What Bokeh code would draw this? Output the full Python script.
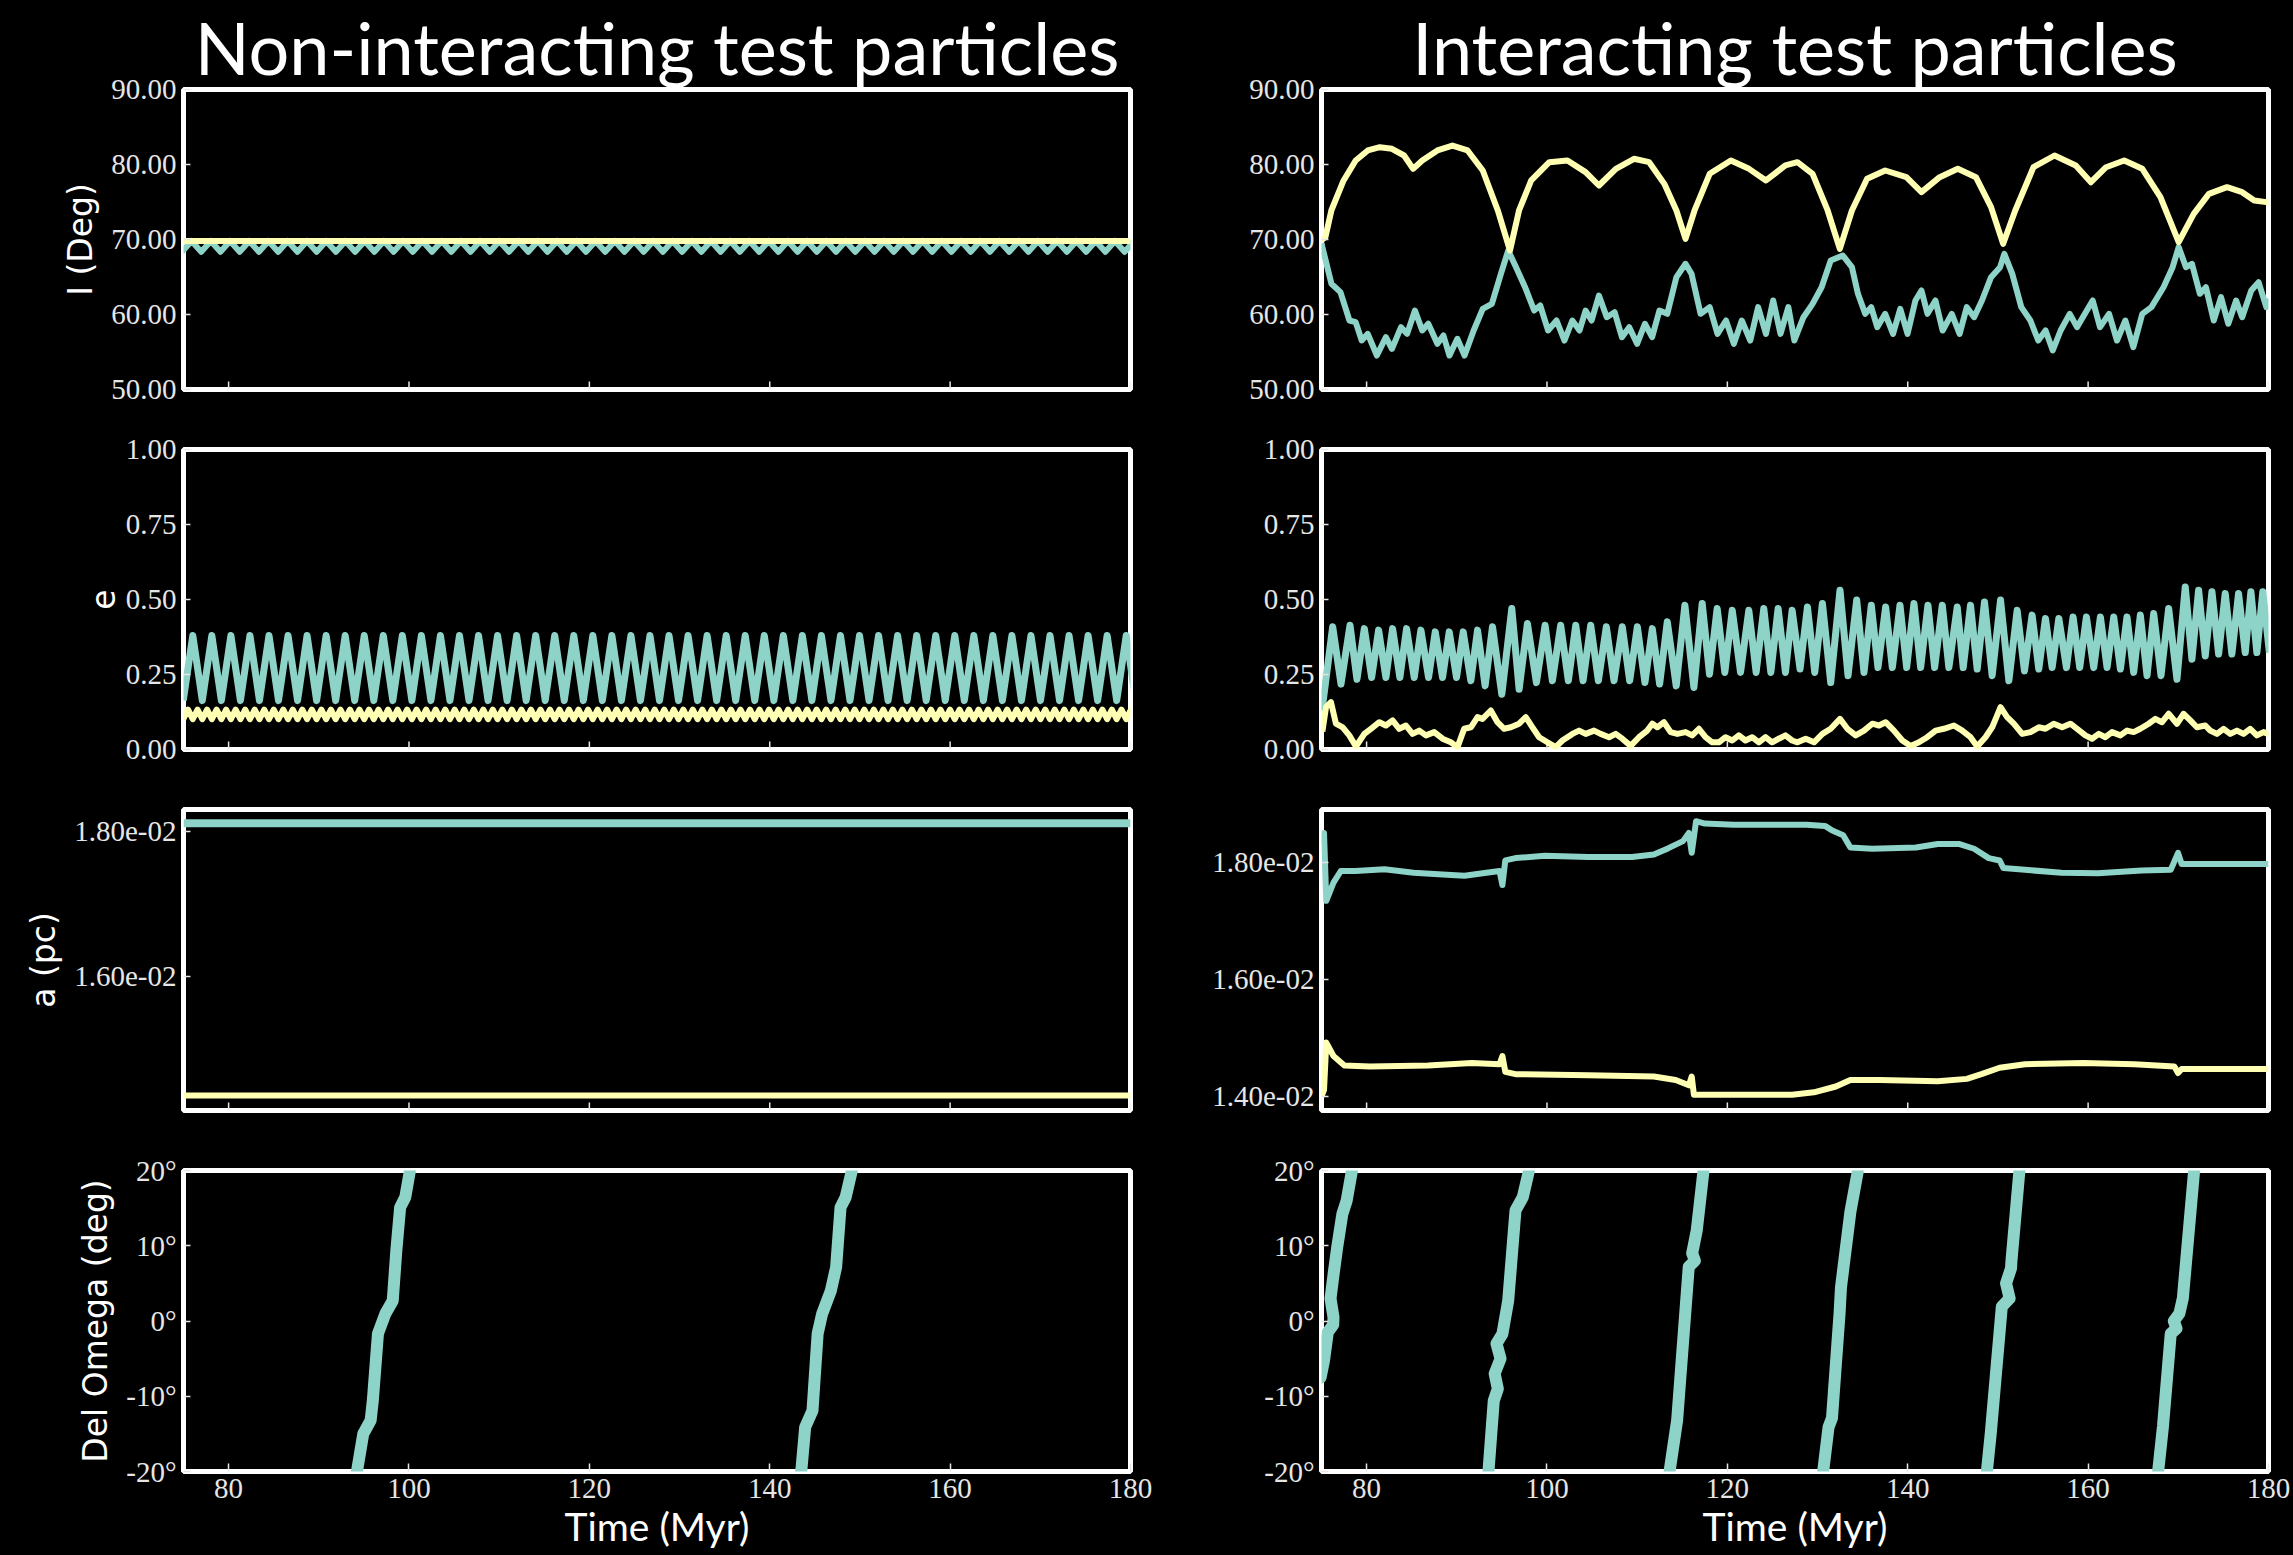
import numpy as np
from bokeh.plotting import figure
from bokeh.models import Range1d, FixedTicker, PrintfTickFormatter, CustomJSTickFormatter, Title
from bokeh.layouts import column, row
from bokeh.embed import file_html
from bokeh.resources import INLINE

CYAN = "#8dd3c7"
YELLOW = "#feffb3"

# ---------------- time axis ----------------
T_MIN, T_MAX = 75.0, 180.0
x_ticks = [80, 100, 120, 140, 160, 180]

# ---------------- non-interacting particles ----------------
# inclination, cyan particle: alternating troughs / crests, evenly spaced in time
free_I_cyan_t0, free_I_cyan_t1 = 74.83, 180.41
free_I_cyan = [
    68.35, 69.80, 68.35, 69.80, 68.35, 69.80, 68.35, 69.80, 68.35, 69.80,
    68.35, 69.80, 68.35, 69.80, 68.35, 69.80, 68.35, 69.80, 68.35, 69.80,
    68.35, 69.80, 68.35, 69.80, 68.35, 69.80, 68.35, 69.80, 68.35, 69.80,
    68.35, 69.80, 68.35, 69.80, 68.35, 69.80, 68.35, 69.80, 68.35, 69.80,
    68.35, 69.80, 68.35, 69.80, 68.35, 69.80, 68.35, 69.80, 68.35, 69.80,
    68.35, 69.80, 68.35, 69.80, 68.35, 69.80, 68.35, 69.80, 68.35, 69.80,
    68.35, 69.80, 68.35, 69.80, 68.35, 69.80, 68.35, 69.80, 68.35, 69.80,
    68.35, 69.80, 68.35, 69.80, 68.35, 69.80, 68.35, 69.80, 68.35, 69.80,
    68.35, 69.80, 68.35, 69.80, 68.35, 69.80, 68.35, 69.80, 68.35, 69.80,
    68.35, 69.80, 68.35, 69.80, 68.35, 69.80, 68.35, 69.80, 68.35, 69.80,
]
free_I_yellow_t = [75.0, 100.0, 125.0, 150.0, 180.0]
free_I_yellow = [69.80, 69.80, 69.80, 69.80, 69.80]

# eccentricity, cyan particle: troughs / crests, evenly spaced in time
free_e_cyan_t0, free_e_cyan_t1 = 74.974, 180.58
free_e_cyan = [
    0.163, 0.380, 0.163, 0.380, 0.163, 0.380, 0.163, 0.380, 0.163, 0.380,
    0.163, 0.380, 0.163, 0.380, 0.163, 0.380, 0.163, 0.380, 0.163, 0.380,
    0.163, 0.380, 0.163, 0.380, 0.163, 0.380, 0.163, 0.380, 0.163, 0.380,
    0.163, 0.380, 0.163, 0.380, 0.163, 0.380, 0.163, 0.380, 0.163, 0.380,
    0.163, 0.380, 0.163, 0.380, 0.163, 0.380, 0.163, 0.380, 0.163, 0.380,
    0.163, 0.380, 0.163, 0.380, 0.163, 0.380, 0.163, 0.380, 0.163, 0.380,
    0.163, 0.380, 0.163, 0.380, 0.163, 0.380, 0.163, 0.380, 0.163, 0.380,
    0.163, 0.380, 0.163, 0.380, 0.163, 0.380, 0.163, 0.380, 0.163, 0.380,
    0.163, 0.380, 0.163, 0.380, 0.163, 0.380, 0.163, 0.380, 0.163, 0.380,
    0.163, 0.380, 0.163, 0.380, 0.163, 0.380, 0.163, 0.380, 0.163, 0.380,
    0.163,
]
# eccentricity, yellow particle: twice as fast, small swing
free_e_yellow_t0, free_e_yellow_t1 = 74.974, 180.58
free_e_yellow = [
    0.101, 0.133, 0.101, 0.133, 0.101, 0.133, 0.101, 0.133, 0.101, 0.133,
    0.101, 0.133, 0.101, 0.133, 0.101, 0.133, 0.101, 0.133, 0.101, 0.133,
    0.101, 0.133, 0.101, 0.133, 0.101, 0.133, 0.101, 0.133, 0.101, 0.133,
    0.101, 0.133, 0.101, 0.133, 0.101, 0.133, 0.101, 0.133, 0.101, 0.133,
    0.101, 0.133, 0.101, 0.133, 0.101, 0.133, 0.101, 0.133, 0.101, 0.133,
    0.101, 0.133, 0.101, 0.133, 0.101, 0.133, 0.101, 0.133, 0.101, 0.133,
    0.101, 0.133, 0.101, 0.133, 0.101, 0.133, 0.101, 0.133, 0.101, 0.133,
    0.101, 0.133, 0.101, 0.133, 0.101, 0.133, 0.101, 0.133, 0.101, 0.133,
    0.101, 0.133, 0.101, 0.133, 0.101, 0.133, 0.101, 0.133, 0.101, 0.133,
    0.101, 0.133, 0.101, 0.133, 0.101, 0.133, 0.101, 0.133, 0.101, 0.133,
    0.101, 0.133, 0.101, 0.133, 0.101, 0.133, 0.101, 0.133, 0.101, 0.133,
    0.101, 0.133, 0.101, 0.133, 0.101, 0.133, 0.101, 0.133, 0.101, 0.133,
    0.101, 0.133, 0.101, 0.133, 0.101, 0.133, 0.101, 0.133, 0.101, 0.133,
    0.101, 0.133, 0.101, 0.133, 0.101, 0.133, 0.101, 0.133, 0.101, 0.133,
    0.101, 0.133, 0.101, 0.133, 0.101, 0.133, 0.101, 0.133, 0.101, 0.133,
    0.101, 0.133, 0.101, 0.133, 0.101, 0.133, 0.101, 0.133, 0.101, 0.133,
    0.101, 0.133, 0.101, 0.133, 0.101, 0.133, 0.101, 0.133, 0.101, 0.133,
    0.101, 0.133, 0.101, 0.133, 0.101, 0.133, 0.101, 0.133, 0.101, 0.133,
    0.101, 0.133, 0.101, 0.133, 0.101, 0.133, 0.101, 0.133, 0.101, 0.133,
    0.101, 0.133, 0.101, 0.133, 0.101, 0.133, 0.101, 0.133, 0.101, 0.133,
    0.101,
]

# semi-major axis (pc)
free_a_t = [75.0, 180.0]
free_a_cyan = [0.01811, 0.01811]
free_a_yellow = [0.014366, 0.014366]

# nodal difference (deg), two passes through the window
free_dO_t = [
    [94.10, 94.28, 94.93, 95.75, 95.99, 96.56, 97.38, 98.20, 98.60, 99.02, 99.59, 100.08, 100.20],
    [143.40, 143.52, 143.93, 144.74, 145.31, 145.81, 146.78, 147.36, 147.85, 148.42, 149.07, 149.20],
]
free_dO = [
    [-21.0, -19.65, -15.0, -13.2, -10.6, -1.7, 0.96, 2.7, 9.4, 15.1, 16.45, 19.8, 21.0],
    [-21.0, -19.65, -14.1, -11.9, -1.7, 0.96, 4.05, 7.15, 15.1, 16.45, 19.8, 21.0],
]

# ---------------- interacting particles ----------------
int_I_yellow_t = [
    75.00, 75.43, 76.10, 77.45, 78.79, 80.13, 81.47, 82.81, 84.16, 85.16,
    86.17, 87.85, 89.52, 91.20, 92.88, 94.55, 95.90, 96.90, 98.25, 100.26,
    102.27, 104.28, 105.76, 107.64, 109.65, 111.33, 113.01, 114.35, 115.36, 116.36,
    118.04, 120.39, 122.40, 124.28, 126.43, 127.77, 129.45, 131.12, 132.47, 133.81,
    135.49, 137.50, 139.85, 141.52, 143.54, 145.55, 147.56, 149.24, 150.58, 151.92,
    153.94, 156.28, 158.63, 160.31, 161.99, 164.00, 166.01, 168.02, 170.04, 171.71,
    173.39, 175.40, 177.08, 178.42, 179.76, 180.20,
]
int_I_yellow = [
    69.9, 70.3, 73.9, 77.87, 80.53, 81.87, 82.31, 82.09, 81.2, 79.42,
    80.53, 81.87, 82.53, 81.87, 79.2, 73.87, 68.53, 73.87, 77.87, 80.31,
    80.53, 78.98, 77.2, 79.42, 80.76, 80.31, 77.42, 73.87, 70.09, 73.87,
    78.76, 80.53, 79.42, 77.87, 79.87, 80.31, 78.76, 73.87, 68.76, 73.87,
    78.09, 79.2, 78.31, 76.31, 78.31, 79.42, 78.31, 74.31, 69.42, 73.87,
    79.64, 81.2, 79.87, 77.64, 79.64, 80.53, 79.42, 75.64, 69.64, 73.42,
    76.09, 76.98, 76.31, 75.2, 74.98, 75.0,
]
int_I_cyan_t = [
    75.00, 75.10, 76.10, 77.10, 78.10, 78.79, 79.46, 80.13, 81.14, 82.14,
    82.81, 83.82, 84.49, 85.36, 86.17, 86.84, 87.85, 88.52, 89.19, 90.06,
    90.86, 91.87, 92.88, 93.89, 94.89, 95.70, 96.57, 97.57, 98.58, 99.25,
    100.12, 101.06, 101.94, 102.81, 103.61, 104.28, 104.95, 105.76, 106.63, 107.50,
    108.31, 109.12, 109.99, 110.86, 111.66, 112.47, 113.34, 114.35, 115.36, 116.03,
    117.03, 118.04, 118.91, 119.85, 120.72, 121.60, 122.54, 123.41, 124.28, 125.08,
    125.89, 126.76, 127.43, 128.44, 129.45, 130.45, 131.46, 132.80, 133.81, 134.48,
    135.28, 135.95, 136.62, 137.50, 138.37, 139.17, 139.98, 140.85, 141.52, 142.19,
    143.07, 143.87, 144.88, 145.75, 146.55, 147.36, 148.23, 149.24, 150.24, 150.71,
    151.59, 152.59, 153.60, 154.47, 155.28, 156.08, 156.95, 157.96, 158.77, 159.64,
    160.51, 161.32, 162.32, 163.20, 164.13, 165.01, 166.01, 167.02, 168.36, 169.37,
    170.04, 170.85, 171.51, 172.39, 173.06, 173.93, 174.74, 175.54, 176.41, 177.08,
    178.09, 178.90, 179.76, 180.20,
]
int_I_cyan = [
    69.5, 68.98, 64.09, 62.98, 59.2, 58.98, 56.53, 57.42, 54.53, 56.98,
    55.42, 58.31, 57.42, 60.53, 57.87, 58.76, 56.09, 57.2, 54.53, 56.76,
    54.53, 57.87, 60.76, 61.42, 65.42, 68.53, 66.31, 63.64, 60.53, 61.2,
    57.87, 59.2, 56.53, 59.2, 57.87, 60.53, 59.2, 62.53, 59.64, 60.31,
    56.98, 58.31, 56.09, 58.76, 56.98, 60.53, 60.09, 64.98, 66.76, 65.42,
    60.09, 60.98, 57.42, 59.2, 56.09, 59.2, 56.53, 60.98, 57.42, 61.87,
    57.42, 60.98, 56.53, 59.64, 61.42, 63.64, 67.2, 67.87, 66.31, 62.76,
    60.09, 60.98, 58.31, 60.09, 57.42, 60.76, 57.42, 61.87, 63.2, 60.09,
    61.87, 57.87, 60.09, 57.42, 60.98, 59.64, 61.87, 64.98, 66.31, 68.09,
    65.42, 60.98, 59.2, 56.53, 57.87, 55.2, 57.87, 60.09, 58.31, 60.09,
    61.87, 58.31, 60.09, 56.53, 59.2, 55.64, 60.09, 60.98, 63.64, 66.31,
    68.98, 66.31, 66.76, 62.76, 63.64, 59.2, 62.31, 58.76, 61.87, 59.64,
    63.2, 64.31, 60.98, 62.0,
]

int_e_cyan_t = [
    75.05, 76.24, 77.16, 78.16, 78.93, 79.75, 80.56, 81.33, 82.14, 82.88,
    83.69, 84.43, 85.28, 86.02, 86.87, 87.61, 88.42, 89.16, 89.97, 90.71,
    91.56, 92.30, 93.14, 93.96, 94.99, 96.10, 96.91, 97.83, 98.83, 99.79,
    100.60, 101.52, 102.37, 103.19, 104.00, 104.85, 105.70, 106.58, 107.43, 108.35,
    109.17, 110.02, 110.86, 111.68, 112.49, 113.34, 114.33, 115.29, 116.29, 117.21,
    118.02, 118.87, 119.72, 120.54, 121.46, 122.38, 123.19, 124.04, 124.82, 125.63,
    126.44, 127.18, 128.06, 128.88, 129.69, 130.54, 131.46, 132.49, 133.38, 134.34,
    135.15, 135.96, 136.70, 137.55, 138.29, 139.14, 139.88, 140.69, 141.43, 142.24,
    142.98, 143.83, 144.56, 145.49, 146.15, 146.96, 147.70, 148.51, 149.36, 150.29,
    151.21, 152.13, 152.94, 153.79, 154.53, 155.27, 156.01, 156.75, 157.60, 158.33,
    159.07, 159.81, 160.62, 161.36, 162.10, 162.84, 163.58, 164.31, 165.05, 165.79,
    166.53, 167.27, 168.08, 168.93, 169.85, 170.77, 171.51, 172.25, 172.99, 173.73,
    174.47, 175.20, 175.94, 176.68, 177.42, 178.05, 178.71, 179.37, 180.10,
]
int_e_cyan = [
    0.130, 0.409, 0.218, 0.414, 0.234, 0.403, 0.240, 0.398, 0.240, 0.403,
    0.240, 0.403, 0.240, 0.398, 0.240, 0.392, 0.240, 0.392, 0.240, 0.392,
    0.229, 0.398, 0.212, 0.409, 0.184, 0.470, 0.201, 0.420, 0.223, 0.414,
    0.229, 0.414, 0.229, 0.414, 0.229, 0.414, 0.229, 0.409, 0.229, 0.409,
    0.229, 0.409, 0.223, 0.403, 0.218, 0.426, 0.212, 0.481, 0.207, 0.487,
    0.251, 0.470, 0.257, 0.464, 0.257, 0.464, 0.257, 0.470, 0.257, 0.470,
    0.257, 0.464, 0.268, 0.475, 0.257, 0.487, 0.223, 0.531, 0.246, 0.498,
    0.257, 0.481, 0.273, 0.475, 0.273, 0.481, 0.273, 0.487, 0.273, 0.481,
    0.273, 0.481, 0.273, 0.475, 0.273, 0.481, 0.268, 0.492, 0.246, 0.498,
    0.229, 0.464, 0.262, 0.448, 0.268, 0.437, 0.273, 0.437, 0.273, 0.442,
    0.273, 0.442, 0.273, 0.442, 0.273, 0.442, 0.268, 0.442, 0.257, 0.448,
    0.246, 0.453, 0.246, 0.470, 0.234, 0.542, 0.301, 0.531, 0.312, 0.526,
    0.318, 0.520, 0.318, 0.520, 0.323, 0.526, 0.323, 0.526, 0.323,
]
int_e_yellow_t = [
    75.10, 75.50, 76.05, 76.60, 77.35, 78.08, 78.82, 79.75, 80.48, 81.41,
    82.14, 82.88, 83.62, 84.36, 85.10, 85.84, 86.58, 87.50, 88.42, 89.34,
    90.08, 90.82, 91.56, 92.30, 92.85, 93.77, 94.51, 95.25, 95.99, 96.91,
    97.65, 98.39, 99.13, 100.05, 100.97, 101.71, 102.82, 103.56, 104.29, 105.22,
    105.95, 106.88, 107.62, 108.35, 109.28, 110.20, 111.12, 111.68, 112.23, 112.97,
    113.71, 114.45, 115.37, 116.10, 116.85, 117.58, 118.32, 119.06, 119.80, 120.54,
    121.27, 122.01, 122.75, 123.49, 124.23, 124.96, 125.70, 126.44, 127.18, 127.77,
    128.69, 129.61, 130.54, 131.46, 132.49, 133.31, 134.23, 135.15, 136.07, 136.81,
    137.55, 138.47, 139.40, 140.32, 141.24, 142.16, 143.09, 144.01, 145.12, 146.04,
    146.96, 147.70, 148.62, 149.36, 150.29, 151.02, 151.76, 152.69, 153.61, 154.53,
    155.27, 156.19, 157.12, 158.04, 158.78, 159.70, 160.44, 161.18, 161.91, 162.65,
    163.58, 164.31, 165.05, 165.79, 166.71, 167.45, 168.19, 168.93, 169.85, 170.59,
    171.33, 172.06, 172.99, 173.54, 174.28, 175.02, 175.76, 176.50, 177.23, 177.97,
    178.71, 179.45, 180.10,
]
int_e_yellow = [
    0.060, 0.141, 0.158, 0.086, 0.074, 0.047, 0.010, 0.052, 0.069, 0.091,
    0.080, 0.097, 0.069, 0.080, 0.052, 0.063, 0.047, 0.058, 0.036, 0.024,
    0.008, 0.069, 0.074, 0.108, 0.102, 0.130, 0.091, 0.069, 0.074, 0.086,
    0.108, 0.074, 0.041, 0.024, 0.008, 0.030, 0.052, 0.063, 0.052, 0.063,
    0.052, 0.041, 0.052, 0.036, 0.012, 0.041, 0.063, 0.086, 0.074, 0.091,
    0.058, 0.052, 0.058, 0.047, 0.069, 0.041, 0.024, 0.024, 0.041, 0.030,
    0.047, 0.030, 0.041, 0.024, 0.041, 0.024, 0.036, 0.047, 0.030, 0.024,
    0.036, 0.024, 0.052, 0.069, 0.102, 0.069, 0.047, 0.063, 0.086, 0.080,
    0.091, 0.063, 0.030, 0.012, 0.024, 0.041, 0.063, 0.069, 0.080, 0.063,
    0.041, 0.010, 0.041, 0.074, 0.141, 0.108, 0.086, 0.052, 0.058, 0.074,
    0.069, 0.086, 0.074, 0.086, 0.069, 0.047, 0.036, 0.052, 0.041, 0.058,
    0.047, 0.063, 0.058, 0.069, 0.086, 0.102, 0.091, 0.119, 0.086, 0.119,
    0.097, 0.074, 0.080, 0.063, 0.052, 0.069, 0.052, 0.063, 0.052, 0.069,
    0.047, 0.058, 0.050,
]

int_a_cyan_t = [
    75.00, 75.28, 75.53, 76.33, 77.14, 78.75, 81.98, 85.21, 88.44, 90.86,
    93.29, 94.74, 95.06, 95.38, 96.51, 99.74, 104.58, 109.43, 111.85, 113.47,
    115.08, 115.73, 116.05, 116.53, 117.50, 120.72, 124.76, 128.79, 130.82, 131.63,
    132.84, 133.64, 136.06, 140.91, 143.33, 145.75, 147.36, 148.98, 150.19, 150.60,
    153.01, 157.05, 161.09, 165.93, 169.16, 169.97, 170.37, 173.20, 180.00,
]
int_a_cyan = [
    0.01830, 0.01850, 0.01734, 0.01765, 0.01785, 0.01785, 0.01788, 0.01782, 0.01779, 0.01777,
    0.01782, 0.01785, 0.01761, 0.01803, 0.01807, 0.01811, 0.01809, 0.01809, 0.01813, 0.01824,
    0.01836, 0.01850, 0.01816, 0.01870, 0.01866, 0.01864, 0.01864, 0.01864, 0.01862, 0.01854,
    0.01846, 0.01825, 0.01823, 0.01825, 0.01831, 0.01831, 0.01823, 0.01807, 0.01803, 0.01790,
    0.01787, 0.01782, 0.01781, 0.01786, 0.01787, 0.01816, 0.01797, 0.01797, 0.01797,
]
int_a_yellow_t = [
    75.00, 75.28, 75.53, 76.33, 77.54, 80.36, 86.82, 91.67, 94.74, 95.06,
    95.38, 96.51, 104.58, 111.85, 114.27, 115.73, 116.05, 116.29, 120.72, 127.18,
    129.60, 132.03, 133.64, 136.87, 143.33, 146.55, 148.17, 150.19, 153.01, 159.47,
    165.12, 169.56, 169.97, 170.37, 180.00,
]
int_a_yellow = [
    0.01400, 0.01411, 0.01492, 0.01469, 0.01453, 0.01451, 0.01453, 0.01457, 0.01455, 0.01469,
    0.01442, 0.01438, 0.01436, 0.01434, 0.01428, 0.01419, 0.01434, 0.01403, 0.01403, 0.01403,
    0.01407, 0.01417, 0.01428, 0.01428, 0.01426, 0.01430, 0.01438, 0.01449, 0.01455, 0.01457,
    0.01455, 0.01451, 0.01440, 0.01447, 0.01447,
]

int_dO_t = [
    [74.90, 75.28, 75.70, 76.30, 76.33, 76.00, 76.35, 76.74, 77.31, 77.79, 78.35, 78.45],
    [93.45, 93.53, 94.10, 94.55, 94.20, 94.85, 94.40, 95.06, 95.70, 96.51, 97.32, 97.97, 98.05],
    [113.55, 113.63, 114.43, 115.72, 116.40, 116.10, 116.60, 117.34, 117.42],
    [130.60, 130.65, 131.22, 131.60, 132.44, 132.60, 133.64, 134.45, 134.55],
    [148.70, 148.80, 149.20, 150.43, 151.30, 150.90, 151.45, 151.50, 152.37, 152.45],
    [167.70, 167.79, 168.30, 169.16, 169.80, 169.50, 170.12, 170.50, 171.74, 171.85],
]
int_dO = [
    [-7.5, -5.25, -1.5, -0.5, 0.5, 3.0, 6.3, 9.8, 14.2, 16.0, 19.8, 21.0],
    [-21.0, -19.7, -10.6, -9.0, -7.0, -5.0, -3.0, -1.7, 2.7, 14.7, 16.45, 19.8, 21.0],
    [-21.0, -19.7, -13.2, 7.2, 8.0, 9.0, 12.0, 19.8, 21.0],
    [-21.0, -19.7, -14.1, -12.9, 1.0, 4.5, 14.5, 19.8, 21.0],
    [-21.0, -19.7, -15.0, 1.9, 3.0, 5.0, 7.0, 8.0, 19.8, 21.0],
    [-21.0, -19.7, -14.0, -1.7, -1.0, 0.0, 1.0, 3.0, 19.8, 21.0],
]

# ---------------- figure styling ----------------
TICK_FONT = "Liberation Serif"
LABEL_FONT = "DejaVu Sans"
HEAD_FONT = "Lato"
TXT = "#e6e6e6"

ROW_H = [419, 360, 361, 415]
ROW_TOP = [89, 30, 30, 30]
ROW_BOTTOM = [30, 30, 30, 84]

sci_fmt = CustomJSTickFormatter(code="""
const s = tick.toExponential(2);
const parts = s.split('e');
const n = parseInt(parts[1]);
const a = Math.abs(n);
return parts[0] + 'e' + (n < 0 ? '-' : '+') + (a < 10 ? '0' + a : '' + a);
""")


def panel(col, r, y_lo, y_hi, yticks, yfmt, ylabel=None, title=None):
    left = col == 0
    p = figure(
        width=1170 if left else 1123, height=ROW_H[r],
        x_range=Range1d(T_MIN, T_MAX), y_range=Range1d(y_lo, y_hi),
        output_backend="svg", toolbar_location=None,
        min_border_left=183 if left else 151,
        min_border_right=40 if left else 25,
        min_border_top=ROW_TOP[r], min_border_bottom=ROW_BOTTOM[r],
    )
    p.background_fill_color = "black"
    p.border_fill_color = "black"
    p.outline_line_color = "white"
    p.outline_line_width = 5
    p.grid.visible = False

    for ax in (p.xaxis[0], p.yaxis[0]):
        ax.axis_line_color = None
        ax.major_tick_out = 0
        ax.major_tick_line_color = TXT
        ax.major_tick_line_width = 1.5
        ax.minor_tick_line_color = None
        ax.major_label_text_font = TICK_FONT
        ax.major_label_text_font_size = "29px"
        ax.major_label_text_color = TXT
        ax.major_label_standoff = 7

    p.xaxis.ticker = FixedTicker(ticks=x_ticks)
    p.xaxis.major_tick_in = 8
    p.yaxis.major_tick_in = 7
    p.yaxis.ticker = FixedTicker(ticks=yticks)
    p.yaxis.formatter = yfmt

    if r < 3:
        # shared time axis: only the bottom row carries labels, the upper
        # rows keep just the inward tick marks along the lower frame edge
        p.xaxis.visible = False
        p.ray(x=x_ticks, y=[y_lo] * len(x_ticks), length=8, length_units="screen",
              angle=np.pi / 2, line_color=TXT, line_width=1.5)
    else:
        p.xaxis.axis_label = "Time (Myr)"
        p.xaxis.axis_label_text_font = HEAD_FONT
        p.xaxis.axis_label_text_font_size = "39px"
        p.xaxis.axis_label_text_font_style = "normal"
        p.xaxis.axis_label_text_color = "white"
        p.xaxis.axis_label_standoff = 2

    if ylabel:
        p.yaxis.axis_label = ylabel
        p.yaxis.axis_label_text_font = LABEL_FONT
        p.yaxis.axis_label_text_font_size = "33px"
        p.yaxis.axis_label_text_font_style = "normal"
        p.yaxis.axis_label_text_color = "white"
        p.yaxis.axis_label_standoff = 8

    if title:
        p.title = Title(text=title, align="center", text_font=HEAD_FONT,
                        text_font_size="72px", text_font_style="normal",
                        text_color="white", standoff=0)
    return p


def evenly(t0, t1, vals):
    return np.linspace(t0, t1, len(vals))


deg_fmt = PrintfTickFormatter(format="%d°")
fix2 = PrintfTickFormatter(format="%.2f")

# ----- left column: non-interacting -----
pI_L = panel(0, 0, 50, 90, [50, 60, 70, 80, 90], fix2, "I (Deg)", "Non-interacting test particles")
pI_L.line(evenly(free_I_cyan_t0, free_I_cyan_t1, free_I_cyan), free_I_cyan,
          line_color=CYAN, line_width=6, line_join="round")
pI_L.line(free_I_yellow_t, free_I_yellow, line_color=YELLOW, line_width=6)

pe_L = panel(0, 1, 0, 1, [0, 0.25, 0.5, 0.75, 1.0], fix2, "e")
pe_L.line(evenly(free_e_cyan_t0, free_e_cyan_t1, free_e_cyan), free_e_cyan,
          line_color=CYAN, line_width=7, line_join="round")
pe_L.line(evenly(free_e_yellow_t0, free_e_yellow_t1, free_e_yellow), free_e_yellow,
          line_color=YELLOW, line_width=6, line_join="round")

pa_L = panel(0, 2, 0.01416, 0.01830, [0.014, 0.016, 0.018], sci_fmt, "a (pc)")
pa_L.line(free_a_t, free_a_cyan, line_color=CYAN, line_width=8)
pa_L.line(free_a_t, free_a_yellow, line_color=YELLOW, line_width=6)

pd_L = panel(0, 3, -20, 20, [-20, -10, 0, 10, 20], deg_fmt, "Del Omega (deg)")
pd_L.multi_line(free_dO_t, free_dO, line_color=CYAN, line_width=12,
                line_join="round", line_cap="round")

# ----- right column: interacting -----
pI_R = panel(1, 0, 50, 90, [50, 60, 70, 80, 90], fix2, None, "Interacting test particles")
pI_R.line(int_I_cyan_t, int_I_cyan, line_color=CYAN, line_width=6, line_join="round")
pI_R.line(int_I_yellow_t, int_I_yellow, line_color=YELLOW, line_width=6, line_join="round")

pe_R = panel(1, 1, 0, 1, [0, 0.25, 0.5, 0.75, 1.0], fix2)
pe_R.line(int_e_cyan_t, int_e_cyan, line_color=CYAN, line_width=7, line_join="round")
pe_R.line(int_e_yellow_t, int_e_yellow, line_color=YELLOW, line_width=6, line_join="round")

pa_R = panel(1, 2, 0.01376, 0.01890, [0.014, 0.016, 0.018], sci_fmt)
pa_R.line(int_a_cyan_t, int_a_cyan, line_color=CYAN, line_width=6, line_join="round")
pa_R.line(int_a_yellow_t, int_a_yellow, line_color=YELLOW, line_width=6, line_join="round")

pd_R = panel(1, 3, -20, 20, [-20, -10, 0, 10, 20], deg_fmt)
pd_R.multi_line(int_dO_t, int_dO, line_color=CYAN, line_width=12,
                line_join="round", line_cap="round")

layout = column(
    row(pI_L, pI_R),
    row(pe_L, pe_R),
    row(pa_L, pa_R),
    row(pd_L, pd_R),
    styles={"background-color": "black"},
)

html = file_html(layout, INLINE, title="Test particle orbital evolution")
html = html.replace("<body>", '<body style="margin:0;background:black;">')
open("out.html", "w").write(html)
